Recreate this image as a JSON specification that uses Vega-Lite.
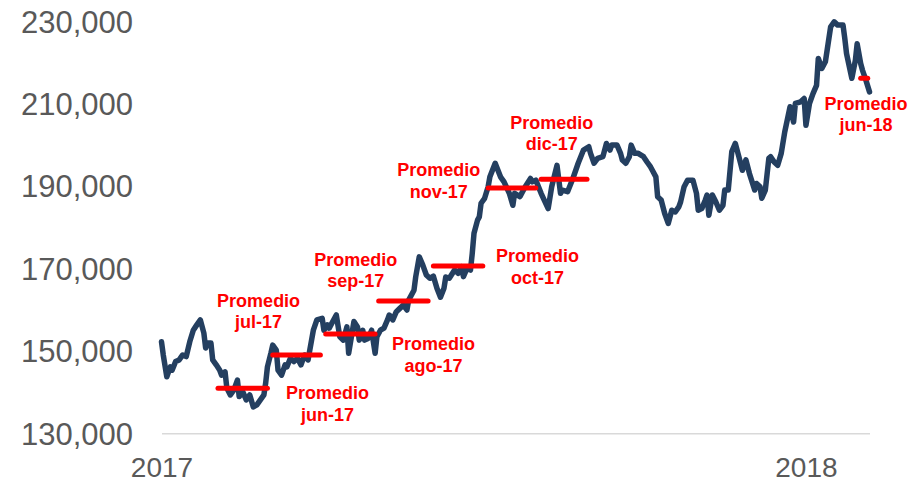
{
  "$schema": "https://vega.github.io/schema/vega-lite/v6.json",
  "autosize": "none",
  "width": 708,
  "height": 412.3,
  "padding": {"left": 161.5, "top": 21, "right": 48.5, "bottom": 47.7},
  "background": "white",
  "config": {"view": {"stroke": null}},
  "datasets": {
    "series": [
      {"date": "2017-01-01", "value": 152200}, {"date": "2017-01-02", "value": 149000}, {"date": "2017-01-04", "value": 143700},
      {"date": "2017-01-06", "value": 146100}, {"date": "2017-01-07", "value": 145300}, {"date": "2017-01-09", "value": 147400},
      {"date": "2017-01-11", "value": 147800}, {"date": "2017-01-13", "value": 149000}, {"date": "2017-01-15", "value": 148600},
      {"date": "2017-01-17", "value": 152200}, {"date": "2017-01-19", "value": 155000}, {"date": "2017-01-21", "value": 156300},
      {"date": "2017-01-23", "value": 157500}, {"date": "2017-01-25", "value": 154300}, {"date": "2017-01-26", "value": 150700},
      {"date": "2017-01-27", "value": 151900}, {"date": "2017-01-29", "value": 151900}, {"date": "2017-01-30", "value": 147800},
      {"date": "2017-02-01", "value": 146600}, {"date": "2017-02-03", "value": 145300}, {"date": "2017-02-04", "value": 144100},
      {"date": "2017-02-06", "value": 144900}, {"date": "2017-02-07", "value": 141000}, {"date": "2017-02-09", "value": 139300},
      {"date": "2017-02-11", "value": 140500}, {"date": "2017-02-13", "value": 142900}, {"date": "2017-02-14", "value": 138900},
      {"date": "2017-02-16", "value": 140100}, {"date": "2017-02-18", "value": 138100}, {"date": "2017-02-20", "value": 139300},
      {"date": "2017-02-22", "value": 136400}, {"date": "2017-02-24", "value": 136900}, {"date": "2017-02-26", "value": 138100},
      {"date": "2017-02-28", "value": 139300}, {"date": "2017-03-01", "value": 142200}, {"date": "2017-03-02", "value": 146100},
      {"date": "2017-03-04", "value": 149500}, {"date": "2017-03-05", "value": 151400}, {"date": "2017-03-07", "value": 150200},
      {"date": "2017-03-08", "value": 145300}, {"date": "2017-03-10", "value": 144100}, {"date": "2017-03-12", "value": 146600},
      {"date": "2017-03-13", "value": 146100}, {"date": "2017-03-15", "value": 148200}, {"date": "2017-03-17", "value": 147400},
      {"date": "2017-03-19", "value": 148200}, {"date": "2017-03-21", "value": 146600}, {"date": "2017-03-23", "value": 149000},
      {"date": "2017-03-25", "value": 147800}, {"date": "2017-03-26", "value": 150200}, {"date": "2017-03-28", "value": 155000},
      {"date": "2017-03-30", "value": 157500}, {"date": "2017-04-02", "value": 157900}, {"date": "2017-04-03", "value": 155000},
      {"date": "2017-04-05", "value": 156300}, {"date": "2017-04-06", "value": 155500}, {"date": "2017-04-08", "value": 157100},
      {"date": "2017-04-10", "value": 158700}, {"date": "2017-04-12", "value": 153400}, {"date": "2017-04-14", "value": 152600},
      {"date": "2017-04-16", "value": 155800}, {"date": "2017-04-17", "value": 149400}, {"date": "2017-04-20", "value": 157100},
      {"date": "2017-04-22", "value": 155800}, {"date": "2017-04-23", "value": 152600}, {"date": "2017-04-25", "value": 155000},
      {"date": "2017-04-26", "value": 152600}, {"date": "2017-04-28", "value": 153000}, {"date": "2017-04-30", "value": 155000},
      {"date": "2017-05-02", "value": 149400}, {"date": "2017-05-03", "value": 153400}, {"date": "2017-05-05", "value": 155000},
      {"date": "2017-05-07", "value": 155500}, {"date": "2017-05-09", "value": 157500}, {"date": "2017-05-10", "value": 158700},
      {"date": "2017-05-12", "value": 157500}, {"date": "2017-05-14", "value": 159500}, {"date": "2017-05-16", "value": 160300},
      {"date": "2017-05-18", "value": 161100}, {"date": "2017-05-20", "value": 159900}, {"date": "2017-05-21", "value": 162300},
      {"date": "2017-05-24", "value": 164700}, {"date": "2017-05-25", "value": 168000}, {"date": "2017-05-27", "value": 172800},
      {"date": "2017-05-29", "value": 170800}, {"date": "2017-05-31", "value": 168400}, {"date": "2017-06-02", "value": 167600},
      {"date": "2017-06-04", "value": 168100}, {"date": "2017-06-06", "value": 165200}, {"date": "2017-06-08", "value": 163000},
      {"date": "2017-06-10", "value": 165200}, {"date": "2017-06-11", "value": 167900}, {"date": "2017-06-13", "value": 167600},
      {"date": "2017-06-16", "value": 169600}, {"date": "2017-06-18", "value": 168800}, {"date": "2017-06-20", "value": 170400},
      {"date": "2017-06-21", "value": 168000}, {"date": "2017-06-23", "value": 170000}, {"date": "2017-06-25", "value": 169600},
      {"date": "2017-06-26", "value": 173600}, {"date": "2017-06-27", "value": 178500}, {"date": "2017-06-29", "value": 181700},
      {"date": "2017-06-30", "value": 182500}, {"date": "2017-07-01", "value": 185800}, {"date": "2017-07-03", "value": 187000},
      {"date": "2017-07-05", "value": 189800}, {"date": "2017-07-06", "value": 192200}, {"date": "2017-07-09", "value": 195500},
      {"date": "2017-07-12", "value": 192200}, {"date": "2017-07-14", "value": 191000}, {"date": "2017-07-17", "value": 188200},
      {"date": "2017-07-19", "value": 185300}, {"date": "2017-07-20", "value": 188200}, {"date": "2017-07-23", "value": 187400},
      {"date": "2017-07-26", "value": 189800}, {"date": "2017-07-29", "value": 191800}, {"date": "2017-07-30", "value": 191000},
      {"date": "2017-08-01", "value": 191400}, {"date": "2017-08-04", "value": 188200}, {"date": "2017-08-08", "value": 184500},
      {"date": "2017-08-10", "value": 189800}, {"date": "2017-08-13", "value": 195000}, {"date": "2017-08-15", "value": 188200},
      {"date": "2017-08-16", "value": 189000}, {"date": "2017-08-19", "value": 188600}, {"date": "2017-08-22", "value": 191800},
      {"date": "2017-08-25", "value": 195500}, {"date": "2017-08-28", "value": 198700}, {"date": "2017-08-31", "value": 199500},
      {"date": "2017-09-01", "value": 197900}, {"date": "2017-09-03", "value": 195500}, {"date": "2017-09-05", "value": 196700},
      {"date": "2017-09-08", "value": 197100}, {"date": "2017-09-10", "value": 200300}, {"date": "2017-09-12", "value": 198700},
      {"date": "2017-09-13", "value": 199900}, {"date": "2017-09-16", "value": 199900}, {"date": "2017-09-18", "value": 197900},
      {"date": "2017-09-19", "value": 196300}, {"date": "2017-09-21", "value": 195500}, {"date": "2017-09-23", "value": 197100},
      {"date": "2017-09-24", "value": 199900}, {"date": "2017-09-26", "value": 197900}, {"date": "2017-09-28", "value": 197900},
      {"date": "2017-10-01", "value": 197100}, {"date": "2017-10-03", "value": 195800}, {"date": "2017-10-05", "value": 194600},
      {"date": "2017-10-06", "value": 193800}, {"date": "2017-10-08", "value": 192200}, {"date": "2017-10-09", "value": 187400},
      {"date": "2017-10-11", "value": 186600}, {"date": "2017-10-13", "value": 183300}, {"date": "2017-10-15", "value": 180900},
      {"date": "2017-10-17", "value": 184100}, {"date": "2017-10-19", "value": 183700}, {"date": "2017-10-21", "value": 184900},
      {"date": "2017-10-22", "value": 186100}, {"date": "2017-10-24", "value": 189800}, {"date": "2017-10-26", "value": 191400},
      {"date": "2017-10-29", "value": 191400}, {"date": "2017-10-31", "value": 188200}, {"date": "2017-11-01", "value": 184100},
      {"date": "2017-11-03", "value": 184500}, {"date": "2017-11-05", "value": 186600}, {"date": "2017-11-06", "value": 187800},
      {"date": "2017-11-07", "value": 182900}, {"date": "2017-11-09", "value": 187800}, {"date": "2017-11-11", "value": 186100},
      {"date": "2017-11-13", "value": 184100}, {"date": "2017-11-15", "value": 185300}, {"date": "2017-11-16", "value": 189000},
      {"date": "2017-11-18", "value": 189000}, {"date": "2017-11-20", "value": 198300}, {"date": "2017-11-22", "value": 200300},
      {"date": "2017-11-24", "value": 197100}, {"date": "2017-11-26", "value": 193800}, {"date": "2017-11-28", "value": 196300},
      {"date": "2017-11-30", "value": 193000}, {"date": "2017-12-03", "value": 189000}, {"date": "2017-12-04", "value": 190600},
      {"date": "2017-12-06", "value": 189800}, {"date": "2017-12-07", "value": 187000}, {"date": "2017-12-09", "value": 189000},
      {"date": "2017-12-11", "value": 196700}, {"date": "2017-12-12", "value": 197100}, {"date": "2017-12-14", "value": 195800},
      {"date": "2017-12-16", "value": 195000}, {"date": "2017-12-18", "value": 197900}, {"date": "2017-12-20", "value": 203100},
      {"date": "2017-12-23", "value": 209200}, {"date": "2017-12-25", "value": 205500}, {"date": "2017-12-26", "value": 210000},
      {"date": "2017-12-29", "value": 210400}, {"date": "2017-12-31", "value": 211200}, {"date": "2018-01-01", "value": 204700},
      {"date": "2018-01-03", "value": 210000}, {"date": "2018-01-05", "value": 212400}, {"date": "2018-01-07", "value": 214400},
      {"date": "2018-01-08", "value": 220900}, {"date": "2018-01-10", "value": 218500}, {"date": "2018-01-12", "value": 220100},
      {"date": "2018-01-13", "value": 222900}, {"date": "2018-01-15", "value": 228600}, {"date": "2018-01-17", "value": 229800},
      {"date": "2018-01-19", "value": 229000}, {"date": "2018-01-22", "value": 229000}, {"date": "2018-01-23", "value": 225800},
      {"date": "2018-01-24", "value": 222100}, {"date": "2018-01-27", "value": 216100}, {"date": "2018-01-29", "value": 220500},
      {"date": "2018-01-30", "value": 224500}, {"date": "2018-02-01", "value": 219700}, {"date": "2018-02-02", "value": 218100},
      {"date": "2018-02-04", "value": 215600}, {"date": "2018-02-06", "value": 212800}
    ],
    "averages": [
      {"mes": "jun-17", "start": "2017-02-02", "end": "2017-03-02", "value": 140900},
      {"mes": "jul-17", "start": "2017-03-05", "end": "2017-04-01", "value": 149000},
      {"mes": "ago-17", "start": "2017-04-04", "end": "2017-05-02", "value": 154100},
      {"mes": "sep-17", "start": "2017-05-04", "end": "2017-06-01", "value": 162100},
      {"mes": "oct-17", "start": "2017-06-04", "end": "2017-07-02", "value": 170600},
      {"mes": "nov-17", "start": "2017-07-05", "end": "2017-08-01", "value": 189500},
      {"mes": "dic-17", "start": "2017-08-04", "end": "2017-08-30", "value": 191600},
      {"mes": "jun-18", "start": "2018-02-01", "end": "2018-02-05", "value": 216100}
    ],
    "labels": [
      {"label": "Promedio\njun-17", "date": "2017-04-05", "value": 138200},
      {"label": "Promedio\njul-17", "date": "2017-02-25", "value": 160700},
      {"label": "Promedio\nago-17", "date": "2017-06-04", "value": 150200},
      {"label": "Promedio\nsep-17", "date": "2017-04-21", "value": 170600},
      {"label": "Promedio\noct-17", "date": "2017-08-02", "value": 171500},
      {"label": "Promedio\nnov-17", "date": "2017-06-07", "value": 192400},
      {"label": "Promedio\ndic-17", "date": "2017-08-10", "value": 203900},
      {"label": "Promedio\njun-18", "date": "2018-02-04", "value": 208500}
    ]
  },
  "layer": [
    {
      "data": {"name": "series"},
      "mark": {"type": "line", "color": "#243F60", "strokeWidth": 5.5, "strokeJoin": "round", "strokeCap": "round"},
      "encoding": {
        "x": {
          "field": "date", "type": "temporal",
          "scale": {"type": "utc", "nice": false, "domain": [{"year": 2017, "month": 1, "date": 1, "utc": true}, {"year": 2018, "month": 2, "date": 6, "utc": true}]},
          "axis": {
            "title": null, "grid": false, "ticks": false,
            "domain": true, "domainColor": "#d9d9d9", "domainWidth": 1.5,
            "values": [{"year": 2017, "month": 1, "date": 1, "utc": true}, {"year": 2018, "month": 1, "date": 1, "utc": true}],
            "labelExpr": "utcFormat(datum.value, '%Y')",
            "labelFont": "Liberation Sans", "labelFontSize": 28, "labelColor": "#595959",
            "labelPadding": 21, "labelFlush": false, "labelOverlap": false, "labelBound": false, "labelAlign": "center"
          }
        },
        "y": {
          "field": "value", "type": "quantitative",
          "scale": {"domain": [130000, 230000], "nice": false, "zero": false},
          "axis": {
            "title": null, "grid": false, "ticks": false, "domain": false,
            "values": [130000, 150000, 170000, 190000, 210000, 230000],
            "format": ",.0f",
            "labelFont": "Liberation Sans", "labelFontSize": 31, "labelColor": "#595959",
            "labelPadding": 29, "labelOffset": 2, "labelOverlap": false, "labelBound": false
          }
        }
      }
    },
    {
      "data": {"name": "averages"},
      "mark": {"type": "rule", "color": "#FF0000", "strokeWidth": 5, "strokeCap": "round"},
      "encoding": {
        "x": {"field": "start", "type": "temporal"},
        "x2": {"field": "end"},
        "y": {"field": "value", "type": "quantitative"}
      }
    },
    {
      "data": {"name": "labels"},
      "mark": {"type": "text", "color": "#FF0000", "font": "Liberation Sans", "fontWeight": "bold", "fontSize": 18, "align": "center", "baseline": "alphabetic", "lineBreak": "\n", "lineHeight": 21.5},
      "encoding": {
        "x": {"field": "date", "type": "temporal"},
        "y": {"field": "value", "type": "quantitative"},
        "text": {"field": "label"}
      }
    }
  ]
}
